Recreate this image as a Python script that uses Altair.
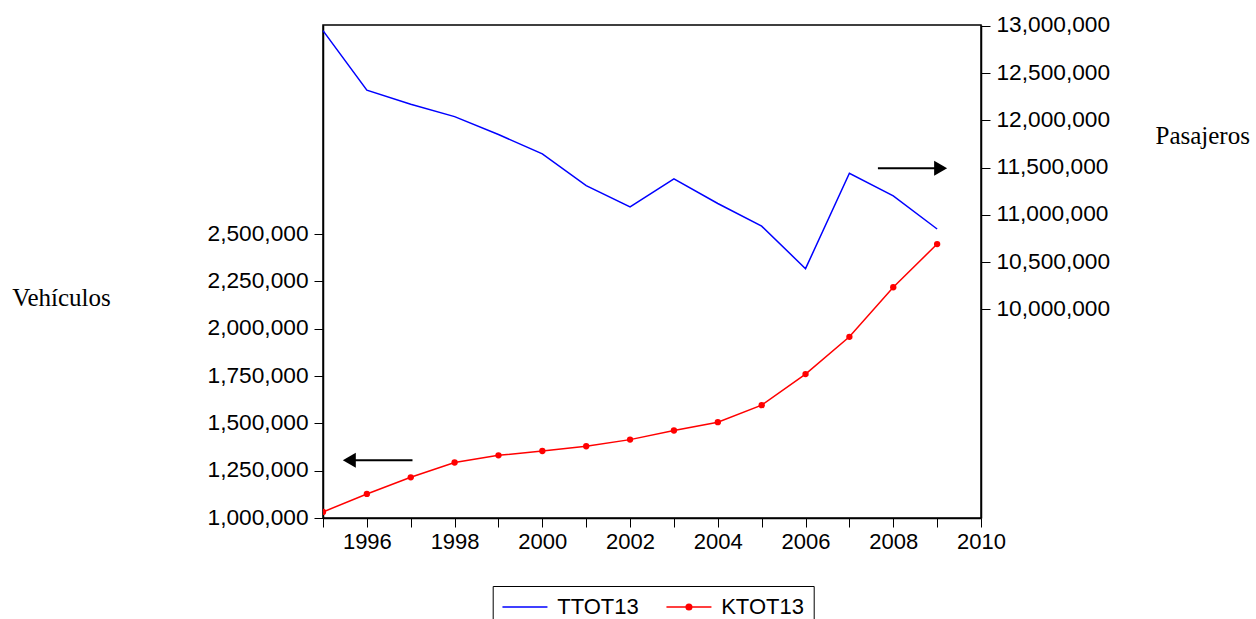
import altair as alt
import pandas as pd

# ---- data ----
years = [1995, 1996, 1997, 1998, 1999, 2000, 2001, 2002, 2003, 2004, 2005, 2006, 2007, 2008, 2009]
ttot13 = [12950000, 12320000, 12170000, 12040000, 11850000, 11645000, 11310000, 11085000,
          11380000, 11120000, 10880000, 10430000, 11440000, 11200000, 10850000]
ktot13 = [1032000, 1127000, 1215000, 1293000, 1331000, 1354000, 1379000, 1414000,
          1462000, 1506000, 1596000, 1760000, 1957000, 2219000, 2447000]
series_names = ["TTOT13", "KTOT13"]
series_colors = ["#0000ff", "#ff0000"]

x_ticks = list(range(1995, 2011))
left_ticks = [1000000, 1250000, 1500000, 1750000, 2000000, 2250000, 2500000]
right_ticks = [10000000, 10500000, 11000000, 11500000, 12000000, 12500000, 13000000]

# annotation arrows (data coordinates)
left_arrow_head = [1995.60]
left_arrow_tail = [1997.04]
left_arrow_level = [1305000]
right_arrow_tail = [2007.65]
right_arrow_head = [2009.08]
right_arrow_level = [11493000]

df = pd.DataFrame({"year": years, "TTOT13": ttot13, "KTOT13": ktot13,
                   "series": ["KTOT13"] * len(years)})
left_arrow = pd.DataFrame({"year": left_arrow_head, "year2": left_arrow_tail, "val": left_arrow_level})
right_arrow = pd.DataFrame({"year": right_arrow_head, "year2": right_arrow_tail, "val": right_arrow_level})

SANS = "Liberation Sans"
SERIF = "Liberation Serif"
LABEL_SIZE = 22.7

x_scale = alt.Scale(domain=[1995, 2010], nice=False, zero=False)
x_axis = alt.Axis(values=x_ticks, format="d", title=None,
                  labelExpr="datum.value % 2 == 0 ? datum.label : ''",
                  labelFont=SANS, labelFontSize=22, labelColor="black", labelPadding=4,
                  labelFlush=False, labelOverlap=False,
                  tickSize=9, tickColor="black", domainColor="black", domainWidth=1.5, grid=False)

left_scale = alt.Scale(domain=[1000000, 3604000], nice=False, zero=False)
left_axis = alt.Axis(orient="left", values=left_ticks, format=",d",
                     title="Vehículos", titleAngle=0, titleX=-311.3, titleY=280,
                     titleAlign="left", titleBaseline="alphabetic",
                     titleFont=SERIF, titleFontSize=25, titleFontWeight="normal", titleColor="black",
                     labelFont=SANS, labelFontSize=LABEL_SIZE, labelColor="black", labelPadding=6,
                     labelFlush=False, labelOverlap=False, labelBaseline="middle", labelOffset=-1,
                     tickSize=9, tickColor="black", domainColor="black", domainWidth=1.5, grid=False)

right_scale = alt.Scale(domain=[7790000, 13010000], nice=False, zero=False)
right_axis = alt.Axis(orient="right", values=right_ticks, format=",d",
                      title="Pasajeros", titleAngle=0, titleX=174, titleY=118.3,
                      titleAlign="left", titleBaseline="alphabetic",
                      titleFont=SERIF, titleFontSize=25, titleFontWeight="normal", titleColor="black",
                      labelFont=SANS, labelFontSize=LABEL_SIZE, labelColor="black", labelPadding=6,
                      labelFlush=False, labelOverlap=False, labelBaseline="middle", labelOffset=-1,
                      tickSize=9, tickColor="black", domainColor="black", domainWidth=1.5, grid=False)

X = alt.X("year:Q", scale=x_scale, axis=x_axis, title=None)

# legend glyphs: plain line, and line with a solid dot (concentric stroked rings)
glyph_line = "M-1,0L3,0"
glyph_dot = ("M-1,0L3,0"
             "M1.25,0A0.25,0.25,0,1,0,0.75,0A0.25,0.25,0,1,0,1.25,0"
             "M1.15,0A0.15,0.15,0,1,0,0.85,0A0.15,0.15,0,1,0,1.15,0"
             "M1.06,0A0.06,0.06,0,1,0,0.94,0A0.06,0.06,0,1,0,1.06,0")

legend = alt.Legend(
    title=None, orient="none", legendX=169.7, legendY=561, direction="horizontal",
    strokeColor="black", fillColor="white", padding=9,
    symbolSize=506.25, symbolStrokeWidth=1.5, symbolOpacity=1,
    labelFont=SANS, labelFontSize=22, labelColor="black", labelOffset=31.5, columnPadding=23,
)

# ---- left (vehicles) layer ----
YL = lambda f: alt.Y(f, scale=left_scale, axis=left_axis, title="Vehículos")
YR = lambda f: alt.Y(f, scale=right_scale, axis=right_axis, title="Pasajeros")

red_line = alt.Chart(df).mark_line(color="#ff0000", strokeWidth=1.5).encode(x=X, y=YL("KTOT13:Q"))
red_points = alt.Chart(df).mark_point(filled=True, size=40, opacity=1, shape="circle",
                                      color="#ff0000", clip=True).encode(x=X, y=YL("KTOT13:Q"))
legend_host = alt.Chart(df).mark_point(filled=False, opacity=0).encode(
    x=X, y=YL("KTOT13:Q"),
    color=alt.Color("series:N", scale=alt.Scale(domain=series_names, range=series_colors), legend=legend),
    shape=alt.Shape("series:N", scale=alt.Scale(domain=series_names, range=[glyph_line, glyph_dot]),
                    legend=legend),
)
left_rule = alt.Chart(left_arrow).mark_rule(color="black", strokeWidth=2).encode(
    x=X, x2="year2:Q", y=YL("val:Q"))
left_head = alt.Chart(left_arrow).mark_point(shape="triangle-left", filled=True, color="black",
                                             size=225, opacity=1).encode(x=X, y=YL("val:Q"))
left_layer = alt.layer(red_line, red_points, legend_host, left_rule, left_head)

# ---- right (passengers) layer ----
blue_line = alt.Chart(df).mark_line(color="#0000ff", strokeWidth=1.5).encode(x=X, y=YR("TTOT13:Q"))
right_rule = alt.Chart(right_arrow).mark_rule(color="black", strokeWidth=2).encode(
    x=X, x2="year2:Q", y=YR("val:Q"))
right_head = alt.Chart(right_arrow).mark_point(shape="triangle-right", filled=True, color="black",
                                               size=225, opacity=1).encode(x=X, y=YR("val:Q"))
right_layer = alt.layer(blue_line, right_rule, right_head)

chart = alt.layer(left_layer, right_layer).resolve_scale(y="independent").properties(
    width=658, height=493,
    autosize=alt.AutoSizeParams(type="none"),
    padding={"left": 323, "top": 25, "right": 275, "bottom": 101},
    background="white",
).configure_view(stroke="black", strokeWidth=1.5)

chart.save("out.html", embed_options={"renderer": "svg", "actions": False})
